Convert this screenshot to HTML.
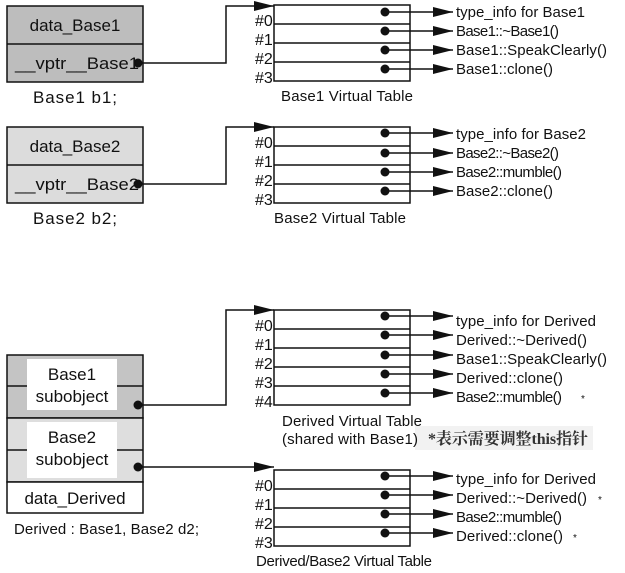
<!DOCTYPE html>
<html><head><meta charset="utf-8"><style>
html,body{margin:0;padding:0;background:#fff;}
svg{display:block;}
text{font-family:"Liberation Sans",Arial,sans-serif;fill:#111;}
.s{font-family:"Liberation Serif",serif;font-size:16px;}
.f{font-size:15px;}
.b{font-size:17px;}
</style></head><body>
<svg width="625" height="573" viewBox="0 0 625 573" xmlns="http://www.w3.org/2000/svg">
<defs>
<marker id="a" viewBox="0 0 10 10" refX="10" refY="5" markerWidth="20" markerHeight="10" markerUnits="userSpaceOnUse" orient="auto" preserveAspectRatio="none"><path d="M0,0L10,5L0,10z" fill="#111"/></marker>
</defs>
<g stroke="#111" stroke-width="1.5" fill="none">
<rect x="7" y="6" width="136" height="76" fill="#bdbdbd"/>
<line x1="7" y1="44" x2="143" y2="44"/>
<rect x="7" y="127" width="136" height="76" fill="#dcdcdc"/>
<line x1="7" y1="165" x2="143" y2="165"/>
<rect x="7" y="355" width="136" height="63" fill="#c4c4c4"/>
<rect x="7" y="418" width="136" height="64" fill="#dedede"/>
<rect x="7" y="482" width="136" height="31" fill="#fff"/>
<rect x="27" y="359" width="90" height="51" fill="#fff" stroke="none"/>
<rect x="27" y="422" width="90" height="56" fill="#fff" stroke="none"/>
<line x1="7" y1="386" x2="27" y2="386"/><line x1="117" y1="386" x2="143" y2="386"/>
<line x1="7" y1="450" x2="27" y2="450"/><line x1="117" y1="450" x2="143" y2="450"/>
<polyline points="138,63 226,63 226,6 274,6" marker-end="url(#a)"/>
<polyline points="138,184 226,184 226,127 274,127" marker-end="url(#a)"/>
<polyline points="138,405 226,405 226,310 274,310" marker-end="url(#a)"/>
<polyline points="138,467 274,467" marker-end="url(#a)"/>
<rect x="274" y="5" width="136" height="76"/>
<line x1="274" y1="24" x2="410" y2="24"/><line x1="274" y1="43" x2="410" y2="43"/><line x1="274" y1="62" x2="410" y2="62"/>
<rect x="274" y="127" width="136" height="76"/>
<line x1="274" y1="146" x2="410" y2="146"/><line x1="274" y1="165" x2="410" y2="165"/><line x1="274" y1="184" x2="410" y2="184"/>
<rect x="274" y="310" width="136" height="95"/>
<line x1="274" y1="329" x2="410" y2="329"/><line x1="274" y1="348" x2="410" y2="348"/><line x1="274" y1="367" x2="410" y2="367"/><line x1="274" y1="386" x2="410" y2="386"/>
<rect x="274" y="470" width="136" height="76"/>
<line x1="274" y1="489" x2="410" y2="489"/><line x1="274" y1="508" x2="410" y2="508"/><line x1="274" y1="527" x2="410" y2="527"/>
<g marker-end="url(#a)">
<line x1="385" y1="12" x2="453" y2="12"/><line x1="385" y1="31" x2="453" y2="31"/><line x1="385" y1="50" x2="453" y2="50"/><line x1="385" y1="69" x2="453" y2="69"/>
<line x1="385" y1="133" x2="453" y2="133"/><line x1="385" y1="153" x2="453" y2="153"/><line x1="385" y1="172" x2="453" y2="172"/><line x1="385" y1="191" x2="453" y2="191"/>
<line x1="385" y1="316" x2="453" y2="316"/><line x1="385" y1="335" x2="453" y2="335"/><line x1="385" y1="355" x2="453" y2="355"/><line x1="385" y1="374" x2="453" y2="374"/><line x1="385" y1="393" x2="453" y2="393"/>
<line x1="385" y1="476" x2="453" y2="476"/><line x1="385" y1="495" x2="453" y2="495"/><line x1="385" y1="514" x2="453" y2="514"/><line x1="385" y1="533" x2="453" y2="533"/>
</g>
</g>
<g fill="#111">
<circle cx="138" cy="63" r="4.5"/><circle cx="138" cy="184" r="4.5"/><circle cx="138" cy="405" r="4.5"/><circle cx="138" cy="467" r="4.5"/>
<circle cx="385" cy="12" r="4.5"/><circle cx="385" cy="31" r="4.5"/><circle cx="385" cy="50" r="4.5"/><circle cx="385" cy="69" r="4.5"/>
<circle cx="385" cy="133" r="4.5"/><circle cx="385" cy="153" r="4.5"/><circle cx="385" cy="172" r="4.5"/><circle cx="385" cy="191" r="4.5"/>
<circle cx="385" cy="316" r="4.5"/><circle cx="385" cy="335" r="4.5"/><circle cx="385" cy="355" r="4.5"/><circle cx="385" cy="374" r="4.5"/><circle cx="385" cy="393" r="4.5"/>
<circle cx="385" cy="476" r="4.5"/><circle cx="385" cy="495" r="4.5"/><circle cx="385" cy="514" r="4.5"/><circle cx="385" cy="533" r="4.5"/>
</g>
<rect x="415" y="426" width="178" height="24" fill="#f2f2f2"/>
<g class="b" text-anchor="middle">
<text x="75" y="31">data_Base1</text>
<text x="77" y="69" textLength="124" lengthAdjust="spacingAndGlyphs">__vptr__Base1</text>
<text x="75" y="152">data_Base2</text>
<text x="77" y="190" textLength="124" lengthAdjust="spacingAndGlyphs">__vptr__Base2</text>
<text x="72" y="380">Base1</text><text x="72" y="402">subobject</text>
<text x="72" y="443">Base2</text><text x="72" y="465">subobject</text>
<text x="75" y="504">data_Derived</text>
</g>
<g class="f">
<text x="33" y="103" font-size="17" textLength="84">Base1  b1;</text>
<text x="33" y="224" font-size="17" textLength="84">Base2  b2;</text>
<text x="14" y="534" textLength="185">Derived : Base1, Base2 d2;</text>
<text x="281" y="101" textLength="132">Base1 Virtual Table</text>
<text x="274" y="223" textLength="132">Base2 Virtual Table</text>
<text x="282" y="426" textLength="140">Derived Virtual Table</text>
<text x="282" y="444" textLength="136">(shared with Base1)</text>
<text x="256" y="566" textLength="176">Derived/Base2 Virtual Table</text>
<text x="456" y="17" textLength="129">type_info for Base1</text>
<text x="456" y="36" textLength="103">Base1::~Base1()</text>
<text x="456" y="55" textLength="151">Base1::SpeakClearly()</text>
<text x="456" y="74" textLength="97">Base1::clone()</text>
<text x="456" y="139" textLength="130">type_info for Base2</text>
<text x="456" y="158" textLength="103">Base2::~Base2()</text>
<text x="456" y="177" textLength="106">Base2::mumble()</text>
<text x="456" y="196" textLength="97">Base2::clone()</text>
<text x="456" y="326" textLength="140">type_info for Derived</text>
<text x="456" y="345" textLength="131">Derived::~Derived()</text>
<text x="456" y="364" textLength="151">Base1::SpeakClearly()</text>
<text x="456" y="383" textLength="107">Derived::clone()</text>
<text x="456" y="402" textLength="106">Base2::mumble()</text><text x="581" y="402" font-size="10" fill="#888">*</text>
<text x="456" y="484" textLength="140">type_info for Derived</text>
<text x="456" y="503" textLength="131">Derived::~Derived()</text><text x="598" y="503" font-size="10" fill="#888">*</text>
<text x="456" y="522" textLength="106">Base2::mumble()</text>
<text x="456" y="541" textLength="107">Derived::clone()</text><text x="573" y="541" font-size="10" fill="#888">*</text>
</g>
<text x="428" y="444" textLength="160" style="font-family:'Liberation Serif','Noto Serif CJK SC',serif;font-size:16px;font-weight:bold;fill:#333">*表示需要调整this指针</text>
<g class="s">
<text x="255" y="26">#0</text><text x="255" y="45">#1</text><text x="255" y="64">#2</text><text x="255" y="83">#3</text>
<text x="255" y="148">#0</text><text x="255" y="167">#1</text><text x="255" y="186">#2</text><text x="255" y="205">#3</text>
<text x="255" y="331">#0</text><text x="255" y="350">#1</text><text x="255" y="369">#2</text><text x="255" y="388">#3</text><text x="255" y="407">#4</text>
<text x="255" y="491">#0</text><text x="255" y="510">#1</text><text x="255" y="529">#2</text><text x="255" y="548">#3</text>
</g>
</svg>
</body></html>
